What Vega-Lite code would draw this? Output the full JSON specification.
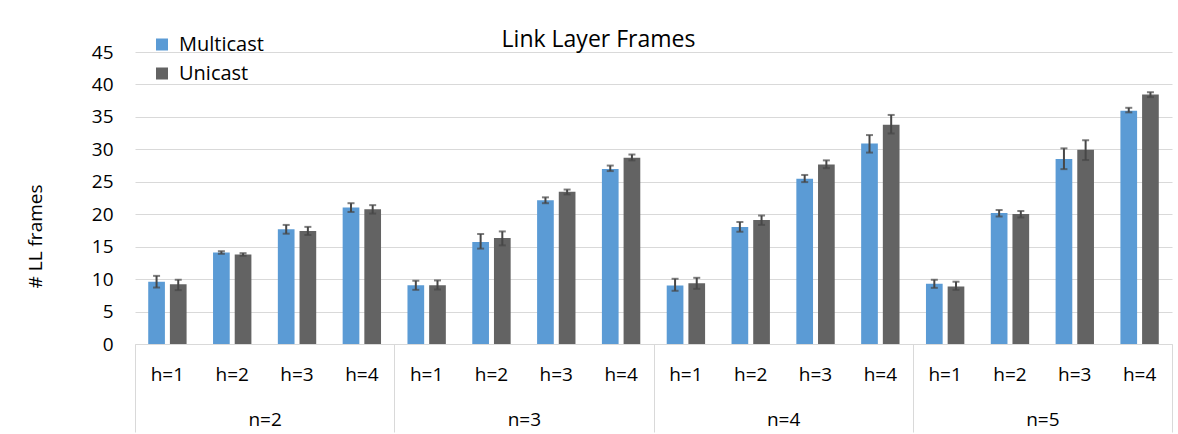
{
  "$schema": "https://vega.github.io/schema/vega-lite/v6.json",
  "autosize": {"type": "none"},
  "padding": {"left": 135, "top": 52, "right": 6, "bottom": 90},
  "width": 1037,
  "height": 292,
  "background": "white",
  "title": {
    "text": "Link Layer Frames",
    "font": "Open Sans",
    "fontSize": 23,
    "fontWeight": "normal",
    "color": "#000000",
    "anchor": "middle",
    "frame": "group",
    "baseline": "alphabetic",
    "offset": 0,
    "dx": -55,
    "dy": 35
  },
  "datasets": {
    "bars": [
      {"cat": "n=2|h=1", "n": "n=2", "h": "h=1", "series": "Multicast", "value": 9.6, "lo": 8.7, "hi": 10.5},
      {"cat": "n=2|h=1", "n": "n=2", "h": "h=1", "series": "Unicast", "value": 9.2, "lo": 8.3, "hi": 9.9},
      {"cat": "n=2|h=2", "n": "n=2", "h": "h=2", "series": "Multicast", "value": 14.1, "lo": 13.9, "hi": 14.3},
      {"cat": "n=2|h=2", "n": "n=2", "h": "h=2", "series": "Unicast", "value": 13.8, "lo": 13.6, "hi": 14.0},
      {"cat": "n=2|h=3", "n": "n=2", "h": "h=3", "series": "Multicast", "value": 17.7, "lo": 17.0, "hi": 18.35},
      {"cat": "n=2|h=3", "n": "n=2", "h": "h=3", "series": "Unicast", "value": 17.4, "lo": 16.8, "hi": 18.05},
      {"cat": "n=2|h=4", "n": "n=2", "h": "h=4", "series": "Multicast", "value": 21.05, "lo": 20.35, "hi": 21.7},
      {"cat": "n=2|h=4", "n": "n=2", "h": "h=4", "series": "Unicast", "value": 20.75, "lo": 20.1, "hi": 21.4},
      {"cat": "n=3|h=1", "n": "n=3", "h": "h=1", "series": "Multicast", "value": 9.05, "lo": 8.35, "hi": 9.75},
      {"cat": "n=3|h=1", "n": "n=3", "h": "h=1", "series": "Unicast", "value": 9.05, "lo": 8.4, "hi": 9.8},
      {"cat": "n=3|h=2", "n": "n=3", "h": "h=2", "series": "Multicast", "value": 15.7, "lo": 14.7, "hi": 16.95},
      {"cat": "n=3|h=2", "n": "n=3", "h": "h=2", "series": "Unicast", "value": 16.35, "lo": 15.2, "hi": 17.35},
      {"cat": "n=3|h=3", "n": "n=3", "h": "h=3", "series": "Multicast", "value": 22.15, "lo": 21.7, "hi": 22.6},
      {"cat": "n=3|h=3", "n": "n=3", "h": "h=3", "series": "Unicast", "value": 23.45, "lo": 23.05, "hi": 23.8},
      {"cat": "n=3|h=4", "n": "n=3", "h": "h=4", "series": "Multicast", "value": 26.95, "lo": 26.65, "hi": 27.5},
      {"cat": "n=3|h=4", "n": "n=3", "h": "h=4", "series": "Unicast", "value": 28.7, "lo": 28.3, "hi": 29.2},
      {"cat": "n=4|h=1", "n": "n=4", "h": "h=1", "series": "Multicast", "value": 9.0, "lo": 8.2, "hi": 10.05},
      {"cat": "n=4|h=1", "n": "n=4", "h": "h=1", "series": "Unicast", "value": 9.35, "lo": 8.5, "hi": 10.2},
      {"cat": "n=4|h=2", "n": "n=4", "h": "h=2", "series": "Multicast", "value": 18.05, "lo": 17.3, "hi": 18.8},
      {"cat": "n=4|h=2", "n": "n=4", "h": "h=2", "series": "Unicast", "value": 19.1, "lo": 18.35, "hi": 19.8},
      {"cat": "n=4|h=3", "n": "n=4", "h": "h=3", "series": "Multicast", "value": 25.45, "lo": 24.95, "hi": 26.05},
      {"cat": "n=4|h=3", "n": "n=4", "h": "h=3", "series": "Unicast", "value": 27.65, "lo": 27.1, "hi": 28.3},
      {"cat": "n=4|h=4", "n": "n=4", "h": "h=4", "series": "Multicast", "value": 30.9, "lo": 29.5, "hi": 32.2},
      {"cat": "n=4|h=4", "n": "n=4", "h": "h=4", "series": "Unicast", "value": 33.8, "lo": 32.45, "hi": 35.3},
      {"cat": "n=5|h=1", "n": "n=5", "h": "h=1", "series": "Multicast", "value": 9.3, "lo": 8.65, "hi": 9.9},
      {"cat": "n=5|h=1", "n": "n=5", "h": "h=1", "series": "Unicast", "value": 8.85, "lo": 8.35, "hi": 9.6},
      {"cat": "n=5|h=2", "n": "n=5", "h": "h=2", "series": "Multicast", "value": 20.2, "lo": 19.65, "hi": 20.65},
      {"cat": "n=5|h=2", "n": "n=5", "h": "h=2", "series": "Unicast", "value": 20.05, "lo": 19.5, "hi": 20.5},
      {"cat": "n=5|h=3", "n": "n=5", "h": "h=3", "series": "Multicast", "value": 28.5, "lo": 26.95, "hi": 30.15},
      {"cat": "n=5|h=3", "n": "n=5", "h": "h=3", "series": "Unicast", "value": 29.95, "lo": 28.35, "hi": 31.4},
      {"cat": "n=5|h=4", "n": "n=5", "h": "h=4", "series": "Multicast", "value": 35.95, "lo": 35.7, "hi": 36.4},
      {"cat": "n=5|h=4", "n": "n=5", "h": "h=4", "series": "Unicast", "value": 38.45, "lo": 38.05, "hi": 38.8}
    ],
    "groups": [
      {"n": "n=2"}, {"n": "n=3"}, {"n": "n=4"}, {"n": "n=5"}
    ]
  },
  "config": {
    "view": {"stroke": null},
    "font": "Open Sans",
    "axis": {"labelFont": "Open Sans", "titleFont": "Open Sans", "labelColor": "#000000", "titleColor": "#000000", "titleFontWeight": "normal"},
    "legend": {"labelFont": "Open Sans"}
  },
  "layer": [
    {
      "data": {"name": "bars"},
      "encoding": {
        "x": {
          "field": "cat",
          "type": "nominal",
          "scale": {"paddingInner": 0, "paddingOuter": 0},
          "axis": {
            "title": null,
            "orient": "bottom",
            "labelExpr": "split(datum.label, '|')[1]",
            "labelAngle": 0,
            "labelFontSize": 19,
            "labelBaseline": "alphabetic",
            "labelPadding": 36,
            "ticks": false,
            "tickSize": 0,
            "domain": true,
            "domainColor": "#d9d9d9",
            "domainWidth": 1,
            "grid": false
          }
        },
        "xOffset": {
          "field": "series",
          "type": "nominal",
          "sort": ["Multicast", "Unicast"],
          "scale": {"paddingInner": 0.23, "paddingOuter": 0.61}
        }
      },
      "layer": [
        {
          "mark": {"type": "bar"},
          "encoding": {
            "y": {
              "field": "value",
              "type": "quantitative",
              "scale": {"domain": [0, 45], "nice": false},
              "axis": {
                "title": "# LL frames",
                "titleFontSize": 19,
                "titlePadding": 46,
                "titleY": 184,
                "labelFontSize": 19,
                "labelPadding": 22,
                "labelOverlap": false,
                "ticks": false,
                "tickSize": 0,
                "domain": false,
                "grid": true,
                "gridColor": "#d9d9d9",
                "gridWidth": 1,
                "values": [0, 5, 10, 15, 20, 25, 30, 35, 40, 45]
              }
            },
            "color": {
              "field": "series",
              "type": "nominal",
              "sort": ["Multicast", "Unicast"],
              "scale": {"domain": ["Multicast", "Unicast"], "range": ["#5b9bd5", "#636363"]},
              "legend": {
                "title": null,
                "orient": "none",
                "legendX": 17,
                "legendY": -17.5,
                "symbolType": "square",
                "symbolSize": 144,
                "symbolStrokeWidth": 0,
                "labelFontSize": 20,
                "labelColor": "#000000",
                "labelOffset": 7,
                "rowPadding": 9
              }
            }
          }
        },
        {
          "mark": {"type": "rule", "color": "#474747", "strokeWidth": 2},
          "encoding": {
            "y": {
              "field": "lo",
              "type": "quantitative",
              "axis": {
                "title": "# LL frames",
                "titleFontSize": 19,
                "titlePadding": 46,
                "titleY": 184,
                "labelFontSize": 19,
                "labelPadding": 22,
                "labelOverlap": false,
                "ticks": false,
                "tickSize": 0,
                "domain": false,
                "grid": true,
                "gridColor": "#d9d9d9",
                "gridWidth": 1,
                "values": [0, 5, 10, 15, 20, 25, 30, 35, 40, 45]
              }
            },
            "y2": {"field": "hi"}
          }
        },
        {
          "mark": {"type": "tick", "color": "#474747", "thickness": 2, "size": 7},
          "encoding": {
            "y": {
              "field": "lo",
              "type": "quantitative",
              "axis": {
                "title": "# LL frames",
                "titleFontSize": 19,
                "titlePadding": 46,
                "titleY": 184,
                "labelFontSize": 19,
                "labelPadding": 22,
                "labelOverlap": false,
                "ticks": false,
                "tickSize": 0,
                "domain": false,
                "grid": true,
                "gridColor": "#d9d9d9",
                "gridWidth": 1,
                "values": [0, 5, 10, 15, 20, 25, 30, 35, 40, 45]
              }
            }
          }
        },
        {
          "mark": {"type": "tick", "color": "#474747", "thickness": 2, "size": 7},
          "encoding": {
            "y": {
              "field": "hi",
              "type": "quantitative",
              "axis": {
                "title": "# LL frames",
                "titleFontSize": 19,
                "titlePadding": 46,
                "titleY": 184,
                "labelFontSize": 19,
                "labelPadding": 22,
                "labelOverlap": false,
                "ticks": false,
                "tickSize": 0,
                "domain": false,
                "grid": true,
                "gridColor": "#d9d9d9",
                "gridWidth": 1,
                "values": [0, 5, 10, 15, 20, 25, 30, 35, 40, 45]
              }
            }
          }
        }
      ]
    },
    {
      "data": {"name": "groups"},
      "mark": {"type": "rule", "opacity": 0},
      "encoding": {
        "x": {
          "field": "n",
          "type": "nominal",
          "scale": {"paddingInner": 0, "paddingOuter": 0},
          "axis": {
            "title": null,
            "orient": "bottom",
            "labelAngle": 0,
            "labelFontSize": 19,
            "labelBaseline": "alphabetic",
            "ticks": true,
            "tickBand": "extent",
            "tickSize": 88,
            "tickColor": "#d9d9d9",
            "tickWidth": 1,
            "labelPadding": -7,
            "domain": false,
            "grid": false
          }
        }
      }
    }
  ],
  "resolve": {"scale": {"x": "independent"}, "axis": {"x": "independent"}}
}
